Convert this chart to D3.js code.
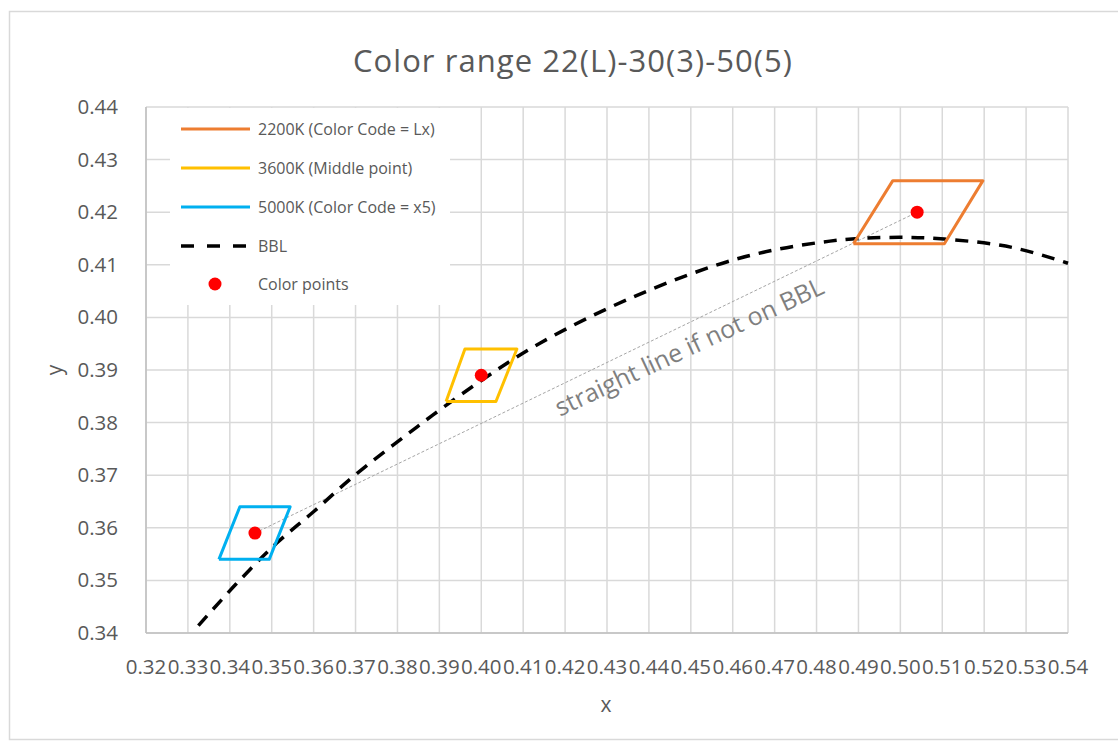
<!DOCTYPE html>
<html>
<head>
<meta charset="utf-8">
<script src="https://cdn.jsdelivr.net/npm/d3@7"></script>
<style>
  body { margin: 0; background: #fff; }
  text { font-family: "Open Sans", sans-serif; }
</style>
</head>
<body>
<div id="chart"></div>
<script>
// Dados
const xTicks = [0.32, 0.33, 0.34, 0.35, 0.36, 0.37, 0.38, 0.39, 0.40, 0.41, 0.42,
                0.43, 0.44, 0.45, 0.46, 0.47, 0.48, 0.49, 0.50, 0.51, 0.52, 0.53, 0.54];
const yTicks = [0.34, 0.35, 0.36, 0.37, 0.38, 0.39, 0.40, 0.41, 0.42, 0.43, 0.44];

// Curva BBL (Planckian locus)
const bblX = [0.3325, 0.3416, 0.3512, 0.3599, 0.3694, 0.3847, 0.4000, 0.4140,
              0.4369, 0.4618, 0.4832, 0.4970, 0.5105, 0.5267, 0.5400];
const bblY = [0.3414, 0.3494, 0.3571, 0.3630, 0.3697, 0.3792, 0.3880, 0.3951,
              0.4041, 0.4113, 0.4145, 0.4152, 0.4149, 0.4133, 0.4103];

// Quadriláteros de tolerância
const orangeX = [0.4888, 0.4982, 0.5197, 0.5105, 0.4888];
const orangeY = [0.414, 0.426, 0.426, 0.414, 0.414];
const yellowX = [0.3916, 0.3961, 0.4085, 0.4035, 0.3916];
const yellowY = [0.384, 0.394, 0.394, 0.384, 0.384];
const blueX = [0.3374, 0.3424, 0.3544, 0.3494, 0.3374];
const blueY = [0.354, 0.364, 0.364, 0.354, 0.354];

// Pontos de cor
const pointX = [0.346, 0.400, 0.504];
const pointY = [0.359, 0.389, 0.420];

const legendLabels = ["2200K (Color Code = Lx)", "3600K (Middle point)",
                      "5000K (Color Code = x5)", "BBL", "Color points"];

const W = 1118, H = 742;
const margin = { left: 146, right: 50, top: 107, bottom: 109 };

const svg = d3.select("#chart").append("svg")
    .attr("width", W).attr("height", H);

// Borda externa do gráfico
svg.append("rect")
    .attr("x", 9.5).attr("y", 11.5)
    .attr("width", W + 20).attr("height", H - 14)
    .attr("fill", "#fff").attr("stroke", "#d9d9d9").attr("stroke-width", 1.5);

const x = d3.scaleLinear().domain([0.32, 0.54]).range([margin.left, W - margin.right]);
const y = d3.scaleLinear().domain([0.34, 0.44]).range([H - margin.bottom, margin.top]);

// Grade
const grid = svg.append("g").attr("stroke", "#d9d9d9").attr("stroke-width", 1.5);
grid.selectAll(".vx").data(xTicks).enter().append("line")
    .attr("x1", d => x(d)).attr("x2", d => x(d))
    .attr("y1", y(0.34)).attr("y2", y(0.44));
grid.selectAll(".hy").data(yTicks).enter().append("line")
    .attr("x1", x(0.32)).attr("x2", x(0.54))
    .attr("y1", d => y(d)).attr("y2", d => y(d));

// Eixos
svg.append("line").attr("x1", x(0.32)).attr("x2", x(0.32))
    .attr("y1", y(0.34)).attr("y2", y(0.44))
    .attr("stroke", "#bfbfbf").attr("stroke-width", 1.5);
svg.append("line").attr("x1", x(0.32)).attr("x2", x(0.54))
    .attr("y1", y(0.34)).attr("y2", y(0.34))
    .attr("stroke", "#bfbfbf").attr("stroke-width", 1.5);

// Rótulos dos ticks
svg.append("g").selectAll("text").data(xTicks).enter().append("text")
    .attr("x", d => x(d)).attr("y", y(0.34) + 41)
    .attr("text-anchor", "middle")
    .attr("fill", "#595959").style("font-size", "20.5px")
    .text(d => d.toFixed(2));
svg.append("g").selectAll("text").data(yTicks).enter().append("text")
    .attr("x", x(0.32) - 28).attr("y", d => y(d) + 7)
    .attr("text-anchor", "end")
    .attr("fill", "#595959").style("font-size", "20.5px")
    .text(d => d.toFixed(2));

// Títulos
svg.append("text").attr("x", 353).attr("y", 72)
    .attr("fill", "#595959")
    .attr("textLength", 439).attr("lengthAdjust", "spacing")
    .style("font-size", "31px").text("Color range 22(L)-30(3)-50(5)");
svg.append("text").attr("x", 606).attr("y", 712)
    .attr("text-anchor", "middle").attr("fill", "#595959")
    .style("font-size", "21px").text("x");
svg.append("text").attr("transform", "translate(62,370) rotate(-90)")
    .attr("text-anchor", "middle").attr("fill", "#595959")
    .style("font-size", "21px").text("y");

const line = d3.line().x(d => x(d[0])).y(d => y(d[1]));
const zip = (a, b) => a.map((v, i) => [v, b[i]]);

// Linha reta entre os pontos extremos
svg.append("path")
    .attr("d", line([[pointX[0], pointY[0]], [pointX[2], pointY[2]]]))
    .attr("fill", "none").attr("stroke", "#a6a6a6")
    .attr("stroke-width", 1).attr("stroke-dasharray", "3,2");

// BBL
svg.append("path")
    .attr("d", line.curve(d3.curveCatmullRom)(zip(bblX, bblY)))
    .attr("fill", "none").attr("stroke", "#000")
    .attr("stroke-width", 3.5).attr("stroke-dasharray", "13,9");
line.curve(d3.curveLinear);

// Quadriláteros
const shapes = [
    { xs: orangeX, ys: orangeY, color: "#ED7D31" },
    { xs: yellowX, ys: yellowY, color: "#FFC000" },
    { xs: blueX, ys: blueY, color: "#00B0F0" }
];
shapes.forEach(s => {
    svg.append("path")
        .attr("d", line(zip(s.xs, s.ys)))
        .attr("fill", "none").attr("stroke", s.color)
        .attr("stroke-width", 3).attr("stroke-linejoin", "round");
});

// Pontos
svg.append("g").selectAll("circle").data(zip(pointX, pointY)).enter().append("circle")
    .attr("cx", d => x(d[0])).attr("cy", d => y(d[1]))
    .attr("r", 6.5).attr("fill", "#ff0000");

// Anotação
svg.append("text")
    .attr("transform", `translate(${x(0.4505)},${y(0.3929)}) rotate(-25)`)
    .attr("text-anchor", "middle").attr("fill", "#7f7f7f")
    .style("font-size", "25px").text("straight line if not on BBL");

// Legenda
const legend = svg.append("g");
legend.append("rect").attr("x", 170).attr("y", 108).attr("width", 280).attr("height", 197)
    .attr("fill", "#fff");
const legY = [129, 168, 207, 246, 284];
legendLabels.forEach((lab, i) => {
    const g = legend.append("g");
    if (i < 3) {
        g.append("line").attr("x1", 181).attr("x2", 250).attr("y1", legY[i]).attr("y2", legY[i])
            .attr("stroke", shapes[i].color).attr("stroke-width", 3);
    } else if (i === 3) {
        g.append("line").attr("x1", 181).attr("x2", 250).attr("y1", legY[i]).attr("y2", legY[i])
            .attr("stroke", "#000").attr("stroke-width", 3.5).attr("stroke-dasharray", "13,13");
    } else {
        g.append("circle").attr("cx", 215).attr("cy", legY[i]).attr("r", 6.5).attr("fill", "#ff0000");
    }
    g.append("text").attr("x", 258).attr("y", legY[i] + 5.5)
        .attr("fill", "#595959").style("font-size", "16px").text(lab);
});
</script>
</body>
</html>
